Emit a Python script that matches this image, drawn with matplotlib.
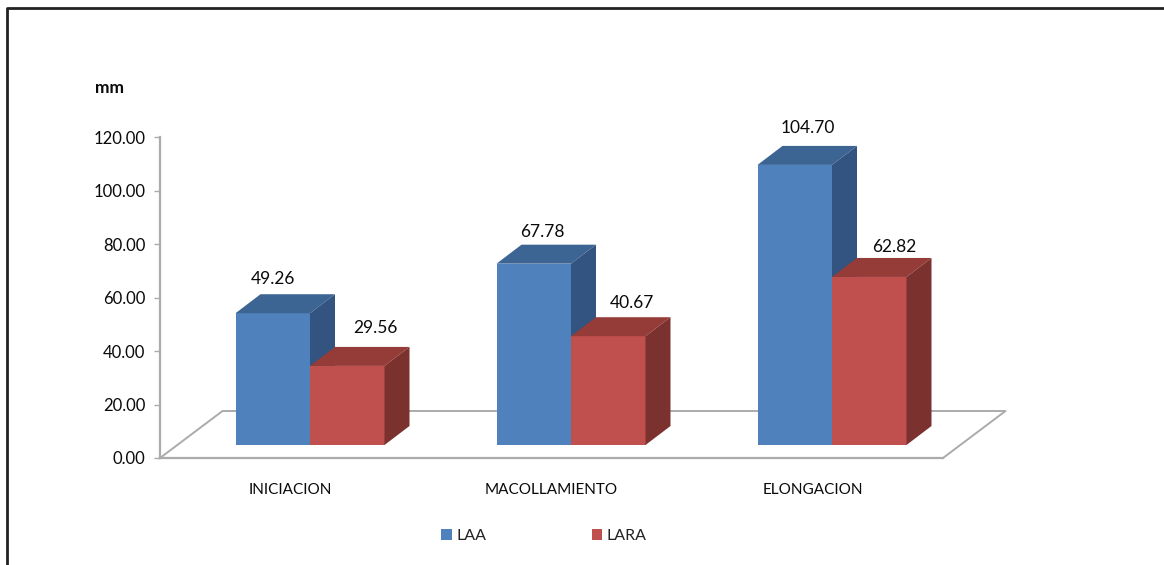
import matplotlib
matplotlib.use("Agg")
import matplotlib.pyplot as plt
from matplotlib.patches import Polygon, Rectangle
from matplotlib.lines import Line2D

categories = ["INICIACION", "MACOLLAMIENTO", "ELONGACION"]
laa = [49.26, 67.78, 104.70]
lara = [29.56, 40.67, 62.82]
y_ticks = [0, 20, 40, 60, 80, 100, 120]

# Label nudges from each bar's front-top centre, in pixels
laa_nudge = [(0, 34), (9, 32), (13, 37)]
lara_nudge = [(28, 38), (24, 33), (25, 30)]

W, H = 1164, 565
AX_L, AX_R, AX_B, AX_T = 160, 943, 458, 137
BLUE, BLUE_TOP, BLUE_SIDE = "#4F81BD", "#3D6593", "#335380"
RED, RED_TOP, RED_SIDE = "#C0504D", "#953C39", "#7B312E"
GREY = "#ABABAB"
INK = "#0A0A0A"
FONT = "Lato"

fig = plt.figure(figsize=(W / 100, H / 100), dpi=100, facecolor="white")
ax = fig.add_axes([AX_L / W, 1 - AX_B / H, (AX_R - AX_L) / W, (AX_B - AX_T) / H])
ax.set_xlim(-0.5, 2.5)
ax.set_ylim(0, 120)
ax.patch.set_visible(False)

px_x = 3 / (AX_R - AX_L)
px_y = 120 / (AX_B - AX_T)
bar_w = 74.5 * px_x
shift = 19.5 * px_x        # bars sit right of the category centre
base = 13 * px_y           # front edge lifted above the floor's front edge
depth_x, depth_y = 25 * px_x, 19 * px_y


def prism(x0, value, front, top, side, z):
    """Front face as a bar, with top and side faces offset by the depth."""
    x1 = x0 + bar_w
    y0, y1 = base, base + value
    ax.bar(x0, value, bar_w, bottom=base, align="edge", color=front, zorder=z, clip_on=False)
    ax.add_patch(Polygon([(x0, y1), (x1, y1), (x1 + depth_x, y1 + depth_y), (x0 + depth_x, y1 + depth_y)],
                         closed=True, fc=top, ec="none", zorder=z, clip_on=False))
    ax.add_patch(Polygon([(x1, y0), (x1 + depth_x, y0 + depth_y), (x1 + depth_x, y1 + depth_y), (x1, y1)],
                         closed=True, fc=side, ec="none", zorder=z, clip_on=False))


for i in range(len(categories)):
    left = i + shift - bar_w
    prism(left, laa[i], BLUE, BLUE_TOP, BLUE_SIDE, 3)
    prism(i + shift, lara[i], RED, RED_TOP, RED_SIDE, 4)
    ax.text(left + bar_w / 2 + laa_nudge[i][0] * px_x, base + laa[i] + laa_nudge[i][1] * px_y,
            f"{laa[i]:.2f}", ha="center", va="center", fontsize=12.5, family=FONT, color=INK, zorder=6)
    ax.text(i + shift + bar_w / 2 + lara_nudge[i][0] * px_x, base + lara[i] + lara_nudge[i][1] * px_y,
            f"{lara[i]:.2f}", ha="center", va="center", fontsize=12.5, family=FONT, color=INK, zorder=6)

# Floor of the 3D plot: the front edge is the bottom spine
floor_dx, floor_dy = 62.5 * px_x, 47 * px_y
ax.plot([-0.5, -0.5 + floor_dx, 2.5 + floor_dx, 2.5], [0, floor_dy, floor_dy, 0],
        color=GREY, lw=1.4, clip_on=False, zorder=1)

for name in ("top", "right"):
    ax.spines[name].set_visible(False)
for name in ("left", "bottom"):
    ax.spines[name].set_color(GREY)
    ax.spines[name].set_linewidth(1.6)

ax.set_yticks(y_ticks)
ax.set_yticklabels([f"{v:.2f}" for v in y_ticks], fontsize=12, family=FONT, color=INK)
ax.tick_params(axis="y", length=4.5, width=1, color=GREY, pad=6)
ax.set_xticks(range(len(categories)))
ax.set_xticklabels(categories, fontsize=11, family=FONT, color=INK)
ax.tick_params(axis="x", length=0, pad=18)

fig.text(109 / W, 1 - 88 / H, "mm", ha="center", va="center", fontsize=12.5, family=FONT,
         fontweight="bold", color=INK)

handles = [Rectangle((0, 0), 1, 1, fc=BLUE), Rectangle((0, 0), 1, 1, fc=RED)]
fig.legend(handles, ["LAA", "LARA"], ncol=2, frameon=False, loc="center",
           bbox_to_anchor=(544 / W, 1 - 536 / H), prop={"family": FONT, "size": 11.5},
           handlelength=0.65, handleheight=0.65, handletextpad=0.3, columnspacing=6.6,
           labelcolor="#222222")

# Page border along the top and left edges
fig.add_artist(Line2D([7 / W, 7 / W, 1], [0, 1 - 8 / H, 1 - 8 / H], color="#222222", lw=2))

fig.savefig("out.png", dpi=100)
